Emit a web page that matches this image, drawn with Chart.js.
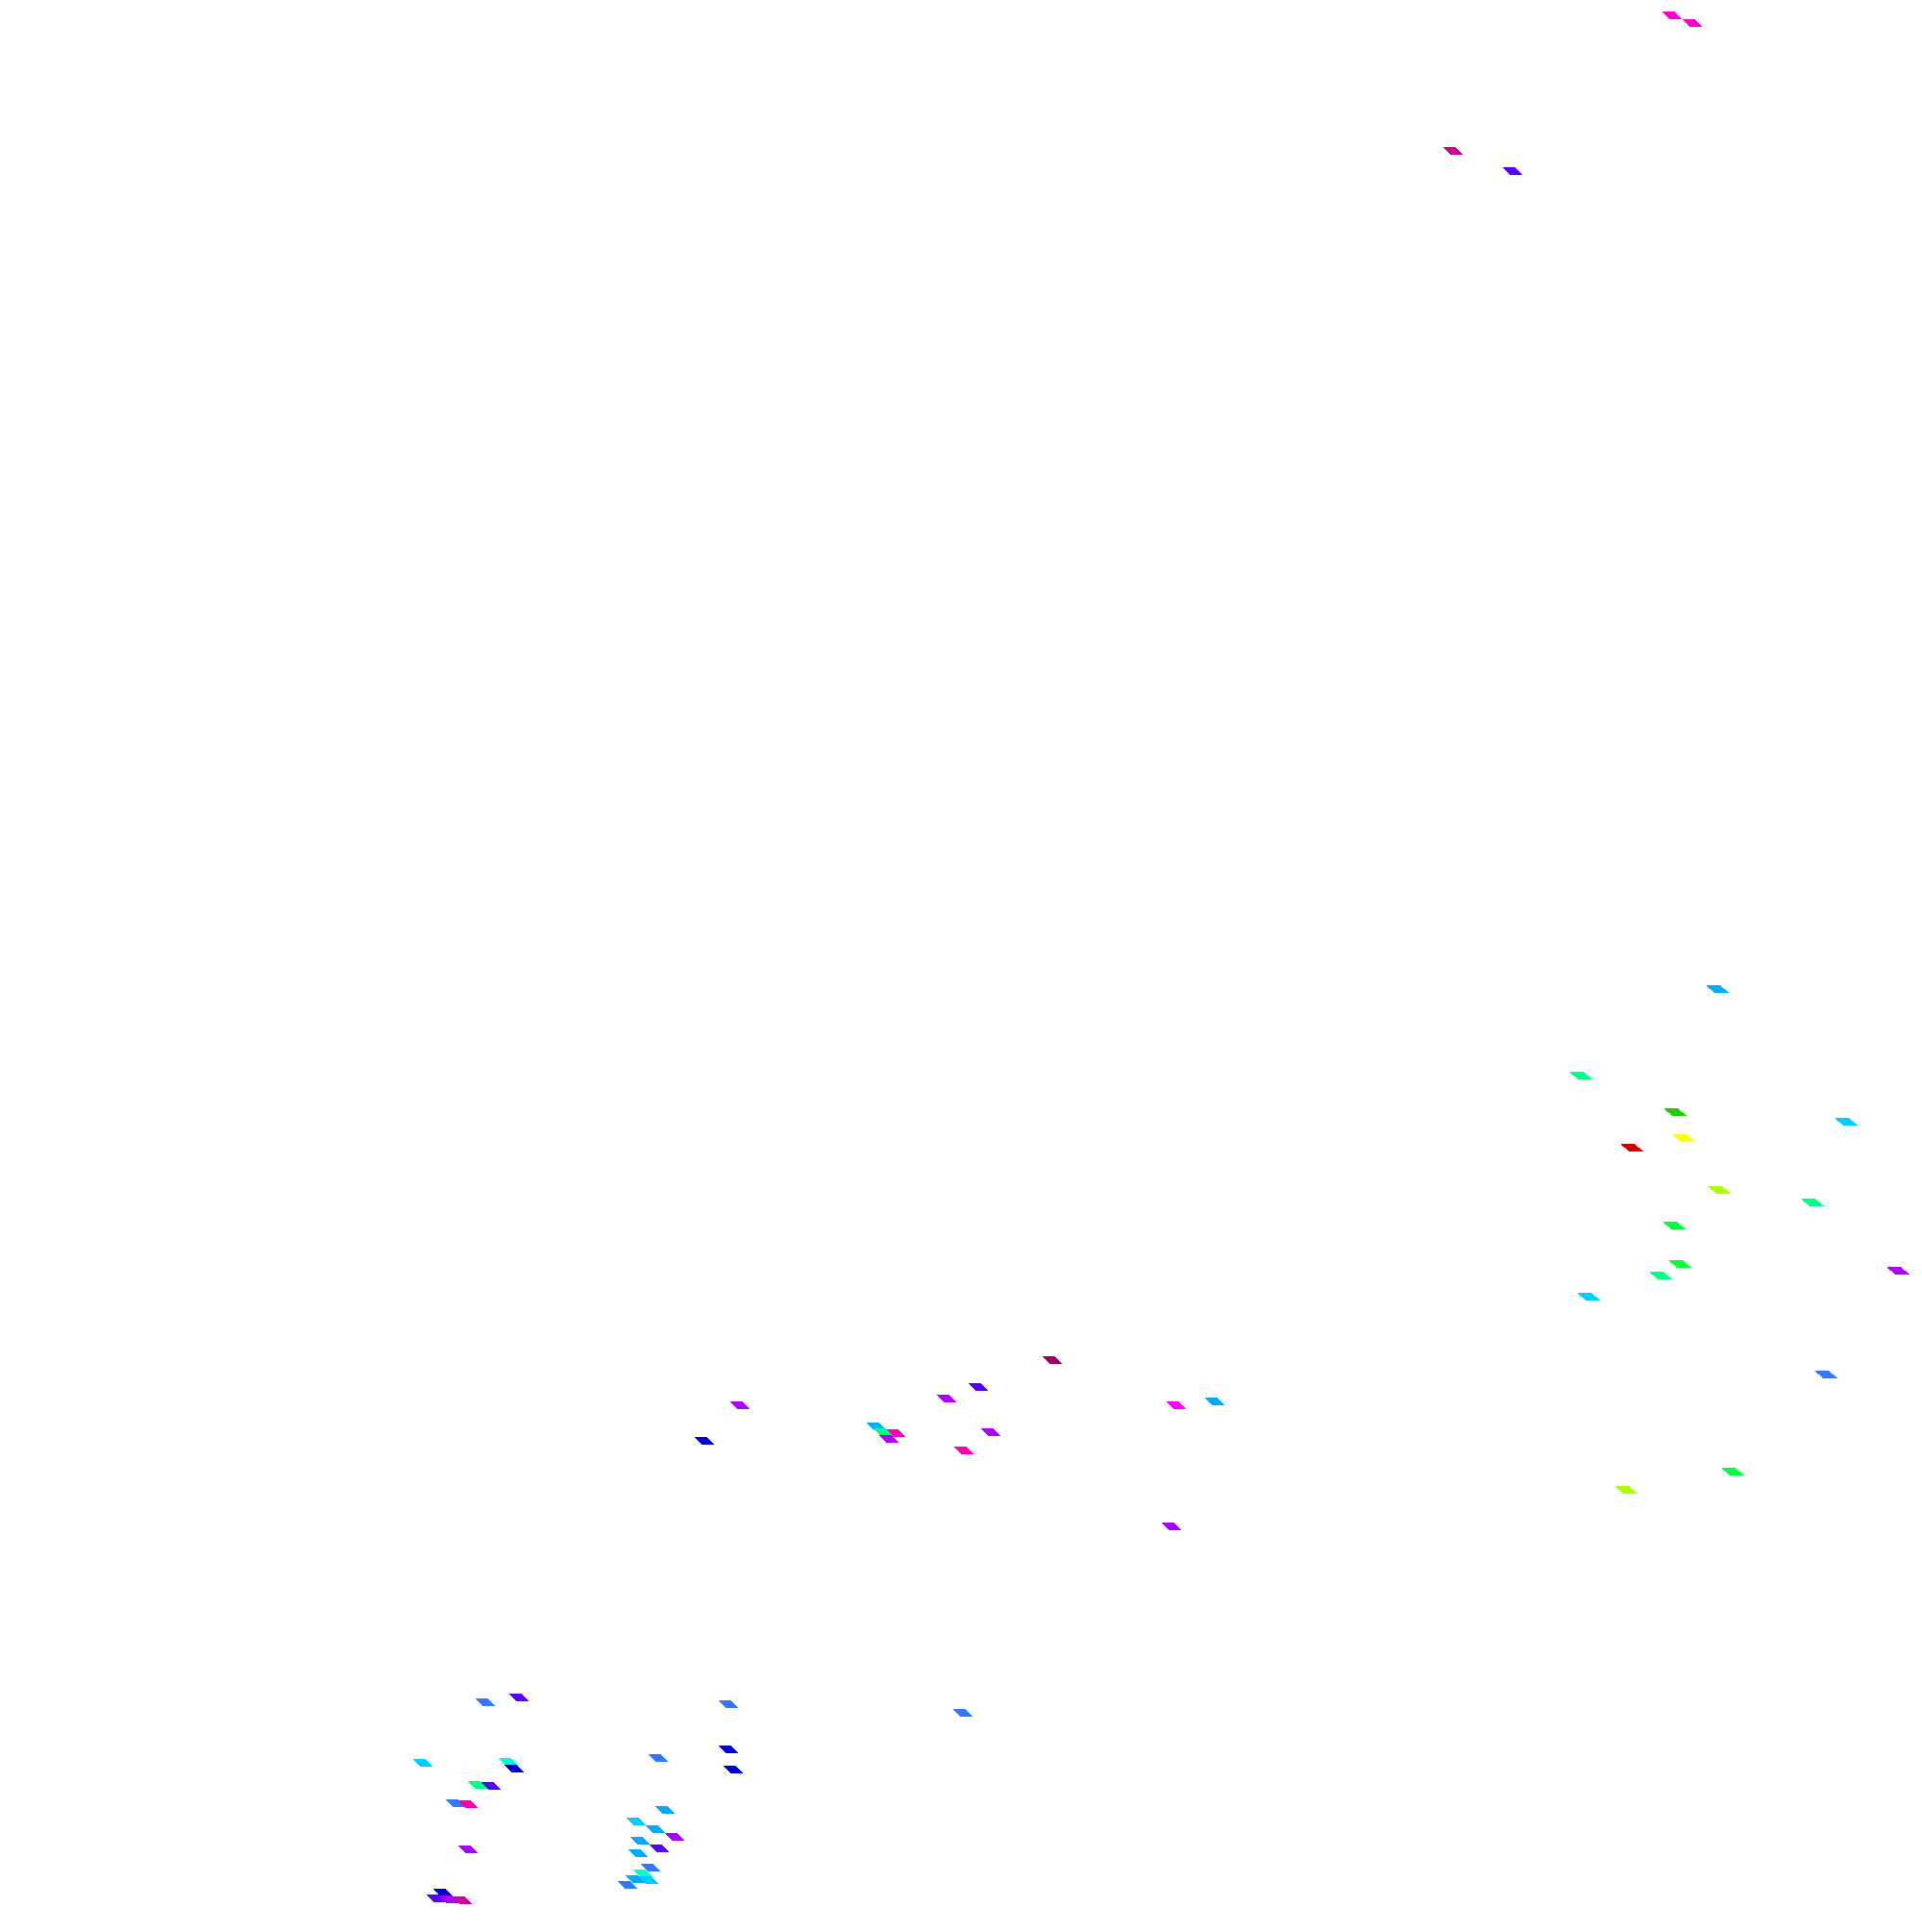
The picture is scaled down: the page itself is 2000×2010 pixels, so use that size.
<!DOCTYPE html>
<html>
<head>
<meta charset="utf-8">
<title>Scatter</title>
<script src="https://cdn.jsdelivr.net/npm/chart.js@4.4.1/dist/chart.umd.min.js"></script>
<style>
  html, body { margin: 0; padding: 0; background: #fff; }
  canvas { display: block; }
</style>
</head>
<body>
<canvas id="scatter" width="2000" height="2010"></canvas>
<script>
// point positions (arbitrary 0-100 units, no axes shown) and colour level per point
const xs = [
  87.0, 88.05, 75.6, 78.7,
  89.35, 82.25, 87.15, 96.05, 87.6, 84.9, 89.45, 94.3, 87.1, 87.4, 86.4, 82.65, 98.75, 95.0, 90.15, 84.6,
  54.75, 50.9, 49.25, 38.5, 61.2, 63.2, 45.6, 46.6, 45.95, 46.25, 36.65, 51.55, 50.15, 60.95,
  25.25, 27.0, 37.9, 50.1, 22.0, 26.45, 26.75, 24.85, 25.55, 23.7, 24.35, 24.35, 23.05, 22.7, 23.35, 24.05,
  37.9, 38.15, 34.25, 34.6, 33.1, 34.1, 35.1, 33.3, 34.3, 33.2, 33.85, 33.45, 33.05, 33.75, 32.65
];
const ys = [
  99.20, 98.81, 92.19, 91.14,
  48.81, 44.33, 42.44, 41.94, 41.09, 40.60, 38.41, 37.76, 36.57, 34.58, 33.98, 32.89, 34.23, 28.86, 23.83, 22.89,
  29.60, 28.21, 27.61, 27.26, 27.26, 27.46, 26.17, 25.82, 25.87, 25.52, 25.42, 25.87, 24.93, 21.00,
  11.89, 12.14, 11.79, 11.34, 8.76, 8.81, 8.46, 7.61, 7.56, 6.67, 6.62, 4.28, 2.04, 1.74, 1.69, 1.64,
  9.45, 8.41, 9.00, 6.32, 5.72, 5.32, 4.93, 4.73, 4.33, 4.08, 3.33, 3.03, 2.74, 2.69, 2.44
];
const levels = [
  14, 14, 16, 11,
  8, 5, 3, 7, 1, 0, 2, 5, 4, 4, 5, 7, 12, 9, 4, 2,
  17, 11, 12, 12, 13, 8, 8, 15, 5, 12, 10, 12, 15, 12,
  9, 11, 9, 9, 7, 6, 10, 5, 11, 9, 15, 12, 10, 11, 12, 16,
  10, 10, 9, 8, 7, 8, 12, 8, 11, 8, 9, 6, 8, 7, 9
];

const palette = ['#cc0000', '#ffff00', '#aaff00', '#22cc00', '#00ff3c', '#00ff88', '#00ffcc', '#00ccff',
  '#00aaff', '#3377ff', '#0000cc', '#5500ff', '#aa00ff', '#ff00ff', '#ff00cc', '#ff00aa', '#cc0099', '#990066'];

// flat slanted marker, drawn row by row so the edges stay crisp
const markers = {};
function marker(color, big) {
  const key = color + (big ? 'b' : 's');
  if (markers[key]) return markers[key];
  const w = big ? 15 : 13, skew = big ? 8 : 7, h = 8;
  const c = document.createElement('canvas');
  c.width = w + skew;
  c.height = h;
  const g = c.getContext('2d');
  g.fillStyle = color;
  for (let r = 0; r < h; r++) {
    g.fillRect(Math.round(skew * r / (h - 1)), r, w, 1);
  }
  markers[key] = c;
  return c;
}

const points = xs.map((x, i) => ({ x: x, y: ys[i] }));

new Chart(document.getElementById('scatter').getContext('2d'), {
  type: 'scatter',
  data: {
    datasets: [{
      data: points,
      pointStyle: ctx => {
        const p = points[ctx.dataIndex];
        return marker(palette[levels[ctx.dataIndex]], p.x > 80 && p.y < 50);
      },
      pointRadius: 5,
      pointBorderWidth: 0,
      clip: false
    }]
  },
  options: {
    responsive: false,
    animation: false,
    layout: { padding: 0, autoPadding: false },
    plugins: { legend: { display: false }, tooltip: { enabled: false } },
    scales: {
      x: { type: 'linear', min: 0, max: 100, display: false },
      y: { type: 'linear', min: 0, max: 100, display: false }
    }
  }
});
</script>
</body>
</html>
